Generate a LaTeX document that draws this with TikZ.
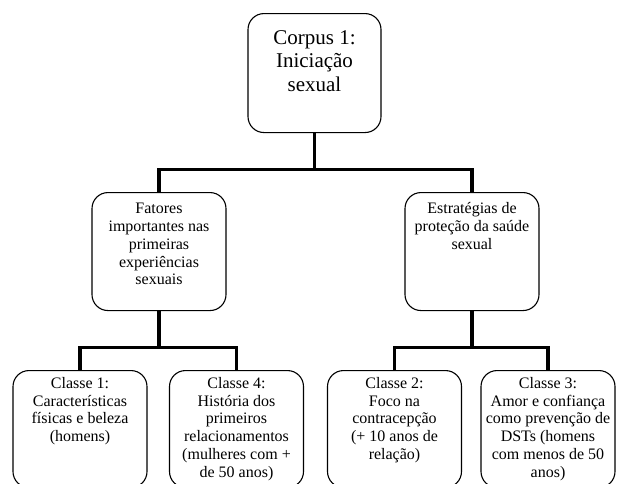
\documentclass[tikz,border=0pt]{standalone}
\usepackage{fontspec}
\setmainfont{Liberation Serif}
\usetikzlibrary{positioning}

\begin{document}
\begin{tikzpicture}[x=1pt,y=-1pt,
    cbox/.style={draw,rounded corners=16pt,line width=1.1pt,
      minimum width=134pt,minimum height=118pt,anchor=north},
    ctxt/.style={align=center,anchor=north,inner sep=0pt,
      font=\fontsize{16}{17.8}\selectfont},
    conn/.style={line width=3.6pt}]
 \useasboundingbox (0,0) rectangle (618,483);
 \clip (0,0) rectangle (618,483);
 % boxes
 \node[cbox,minimum width=133pt,minimum height=119pt] (corp) at (314.5,13) {};
 \node[cbox] (fat) at (159,192) {};
 \node[cbox] (est) at (472,192) {};
 \node[cbox,minimum height=117pt] (cl1) at (80,370) {};
 \node[cbox,minimum height=117pt] (cl4) at (236.5,370) {};
 \node[cbox,minimum height=117pt] (cl2) at (394.5,370) {};
 \node[cbox,minimum height=117pt] (cl3) at (548,370) {};
 % texts
 \node[ctxt,font=\fontsize{21}{23.5}\selectfont,below=17pt of corp.north] (corp-t)
  {Corpus 1:\\ Iniciação\\ sexual};
 \node[ctxt,below=11pt of fat.north] (fat-t)
  {Fatores\\ importantes nas\\ primeiras\\ experiências\\ sexuais};
 \node[ctxt,below=10.5pt of est.north] (est-t)
  {Estratégias de\\ proteção da saúde\\ sexual};
 \node[ctxt,below=7pt of cl1.north] (cl1-t)
  {Classe 1:\\ Características\\ físicas e beleza\\ (homens)};
 \node[ctxt,below=7pt of cl4.north] (cl4-t)
  {Classe 4:\\ História dos\\ primeiros\\ relacionamentos\\ (mulheres com +\\ de 50 anos)};
 \node[ctxt,below=7pt of cl2.north] (cl2-t)
  {Classe 2:\\ Foco na\\ contracepção\\ (+ 10 anos de\\ relação)};
 \node[ctxt,below=7pt of cl3.north] (cl3-t)
  {Classe 3:\\ Amor e confiança\\ como prevenção de\\ DSTs (homens\\ com menos de 50\\ anos)};
 % tree lines
 \foreach \P/\A/\B in {corp/fat/est,fat/cl1/cl4,est/cl2/cl3}
  \draw[conn] (\P.south) -- ++(0,36.5) coordinate (j-\P)
    (\A.north) |- (j-\P) -| (\B.north);
\end{tikzpicture}
\end{document}
